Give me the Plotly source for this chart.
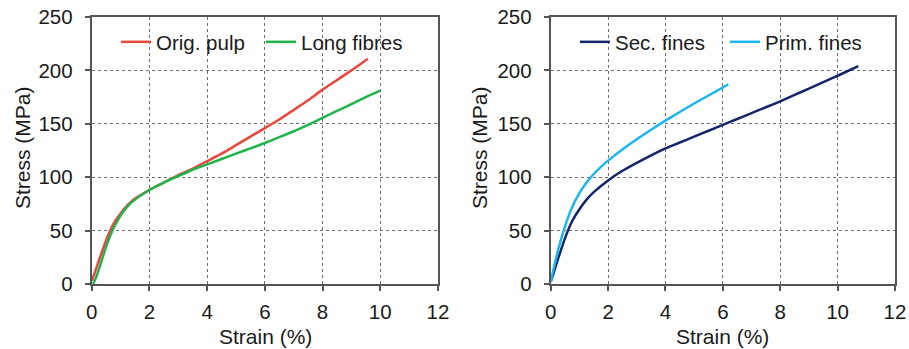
import plotly.graph_objects as go

# Left panel data
orig_x = [0.0, 0.1, 0.25, 0.5, 0.75, 1.0, 1.25, 1.5, 2.0, 2.5, 3.0, 3.5, 4.0, 4.5, 5.0, 5.5, 6.0, 6.5, 7.0, 7.5, 8.0, 8.5, 9.0, 9.57]
orig_y = [3, 10, 22, 41, 56, 66, 74, 80, 88, 95, 102, 108, 115, 122, 130, 138, 146, 154, 163, 172, 182, 191, 200, 211]
long_x = [0.05, 0.15, 0.3, 0.5, 0.75, 1.0, 1.25, 1.5, 2.0, 2.5, 3.0, 3.5, 4.0, 4.5, 5.0, 5.5, 6.0, 6.5, 7.0, 7.5, 8.0, 8.5, 9.0, 9.5, 10.0]
long_y = [0, 6, 18, 35, 52, 64, 73, 79, 88, 95, 101, 107, 112, 117, 122, 127, 132, 137.5, 143, 149, 155.5, 162, 168.5, 175, 181]

# Right panel data
sec_x = [0.0, 0.1, 0.25, 0.5, 0.75, 1.0, 1.25, 1.5, 2.0, 2.5, 3.0, 3.5, 4.0, 4.5, 5.0, 5.5, 6.0, 6.5, 7.0, 7.5, 8.0, 8.5, 9.0, 9.5, 10.0, 10.72]
sec_y = [2, 10, 23, 43, 59, 70, 79, 86, 97, 106, 113.5, 120.5, 127, 132.5, 138, 143.5, 149, 154.5, 160, 165.5, 171, 177, 183, 189, 195, 204]
prim_x = [0.0, 0.1, 0.25, 0.5, 0.75, 1.0, 1.25, 1.5, 2.0, 2.5, 3.0, 3.5, 4.0, 4.5, 5.0, 5.5, 6.0, 6.19]
prim_y = [2, 14, 31, 54, 72, 85, 95, 103, 115.5, 126, 135.5, 144.5, 153, 161, 169, 176.5, 184, 187]

x_ticks = [0, 2, 4, 6, 8, 10, 12]
y_ticks = [0, 50, 100, 150, 200, 250]

FONT = "Liberation Sans, Arial, sans-serif"
TXT = "#1a1a1a"
AX = "#555555"
GRID = "#6e6e6e"

fig = go.Figure()
fig.add_trace(go.Scatter(x=orig_x, y=orig_y, name="Orig. pulp", mode="lines",
                         line=dict(color="#E8473D", width=2.5, shape="spline", smoothing=0.5),
                         xaxis="x", yaxis="y", legend="legend"))
fig.add_trace(go.Scatter(x=long_x, y=long_y, name="Long fibres", mode="lines",
                         line=dict(color="#1FB44B", width=2.5, shape="spline", smoothing=0.5),
                         xaxis="x", yaxis="y", legend="legend"))
fig.add_trace(go.Scatter(x=sec_x, y=sec_y, name="Sec. fines", mode="lines",
                         line=dict(color="#16246B", width=2.5, shape="spline", smoothing=0.5),
                         xaxis="x2", yaxis="y2", legend="legend2"))
fig.add_trace(go.Scatter(x=prim_x, y=prim_y, name="Prim. fines", mode="lines",
                         line=dict(color="#1BB6EE", width=2.5, shape="spline", smoothing=0.5),
                         xaxis="x2", yaxis="y2", legend="legend2"))

ydom = [1 - 284 / 349, 1 - 17 / 349]
xdom1 = [91.7 / 909, 438 / 909]
xdom2 = [550.7 / 909, 895 / 909]

def xaxis(dom, anchor):
    return dict(domain=dom, anchor=anchor, range=[0, 12], tickvals=x_ticks,
                showgrid=True, gridcolor=GRID, griddash="dot", gridwidth=1,
                showline=True, linecolor=AX, linewidth=2, mirror=True,
                ticks="outside", ticklen=5, tickwidth=1.5, tickcolor=AX,
                ticklabelstandoff=3,
                tickfont=dict(family=FONT, size=20.5, color=TXT), zeroline=False,
                automargin=False, fixedrange=True)

def yaxis(anchor):
    return dict(domain=ydom, anchor=anchor, range=[0, 250], tickvals=y_ticks,
                showgrid=True, gridcolor=GRID, griddash="dot", gridwidth=1,
                showline=True, linecolor=AX, linewidth=2, mirror=True,
                ticks="outside", ticklen=5, tickwidth=1.5, tickcolor=AX,
                ticklabelstandoff=8,
                tickfont=dict(family=FONT, size=20.5, color=TXT), zeroline=False,
                automargin=False, fixedrange=True)

leg_common = dict(orientation="h", bgcolor="rgba(0,0,0,0)", borderwidth=0,
                  font=dict(family=FONT, size=20.5, color=TXT),
                  xanchor="left", yanchor="middle", itemwidth=30,
                  tracegroupgap=0)

fig.update_layout(
    width=909, height=349,
    margin=dict(l=0, r=0, t=0, b=0, autoexpand=False),
    paper_bgcolor="white", plot_bgcolor="white",
    showlegend=True,
    xaxis=xaxis(xdom1, "y"),
    yaxis=yaxis("x"),
    xaxis2=xaxis(xdom2, "y2"),
    yaxis2=yaxis("x2"),
    legend=dict(x=116 / 909, y=1 - 42 / 349, entrywidth=100, **leg_common),
    legend2=dict(x=575 / 909, y=1 - 42 / 349, entrywidth=105, **leg_common),
    annotations=[
        dict(text="Stress (MPa)", x=22 / 909, y=1 - 148 / 349, xref="paper", yref="paper",
             textangle=-90, showarrow=False, xanchor="center", yanchor="middle",
             font=dict(family=FONT, size=21, color=TXT)),
        dict(text="Stress (MPa)", x=479 / 909, y=1 - 148 / 349, xref="paper", yref="paper",
             textangle=-90, showarrow=False, xanchor="center", yanchor="middle",
             font=dict(family=FONT, size=21, color=TXT)),
        dict(text="Strain (%)", x=265 / 909, y=1 - 336 / 349, xref="paper", yref="paper",
             showarrow=False, xanchor="center", yanchor="middle",
             font=dict(family=FONT, size=21, color=TXT)),
        dict(text="Strain (%)", x=722 / 909, y=1 - 336 / 349, xref="paper", yref="paper",
             showarrow=False, xanchor="center", yanchor="middle",
             font=dict(family=FONT, size=21, color=TXT)),
    ],
)

fig.write_html("out.html")
